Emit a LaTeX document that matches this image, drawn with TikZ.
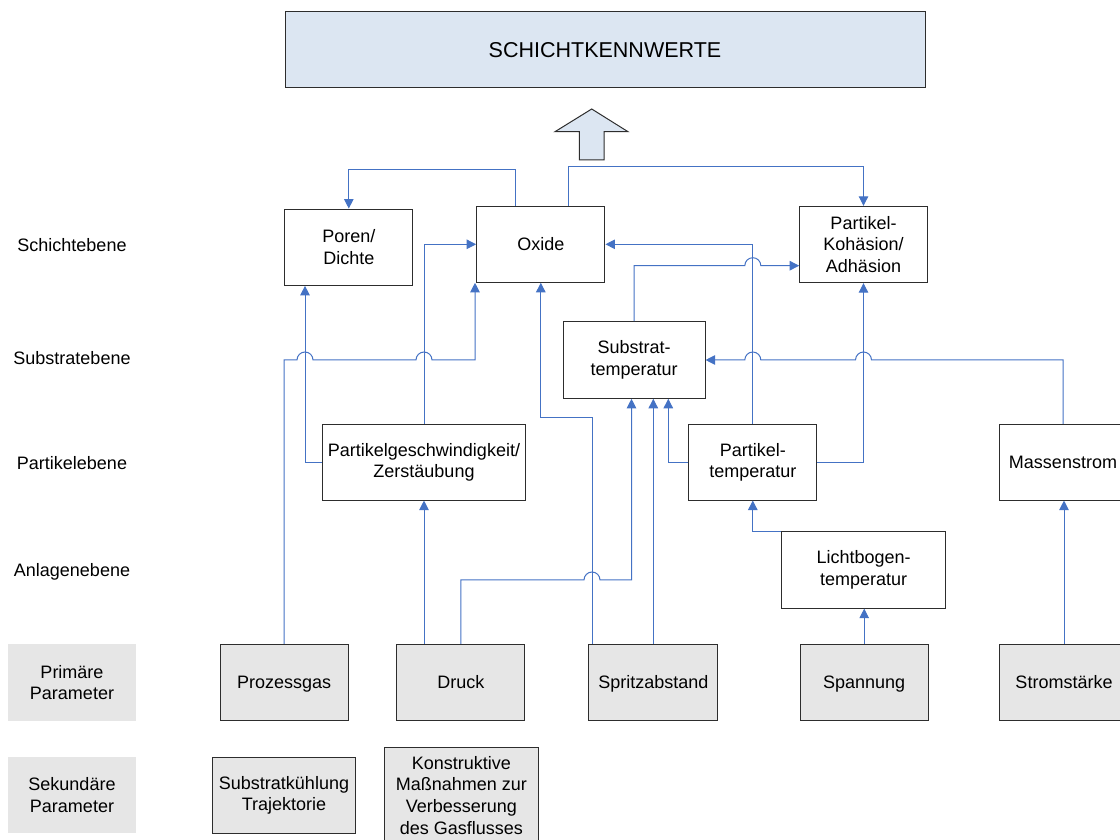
\documentclass[tikz,border=0pt]{standalone}
\usepackage{fontspec}
\setmainfont{Liberation Sans}
\usetikzlibrary{arrows.meta}
\definecolor{conncol}{RGB}{68,114,196}
\definecolor{titlefill}{RGB}{220,230,242}
\definecolor{gfill}{RGB}{230,230,230}
\definecolor{bord}{RGB}{45,45,45}
\begin{document}
\begin{tikzpicture}[x=1pt,y=1pt,
  txt/.style={font=\fontsize{18}{21.6}\selectfont, align=center},
  one/.style={text height=12.9pt, text depth=0pt},
  box/.style={txt, draw=bord, line width=1pt, fill=white, inner sep=0pt, minimum height=76.3pt},
  pbox/.style={box, fill=gfill, minimum width=128.3pt},
  lbox/.style={txt, fill=gfill, inner sep=0pt, minimum width=128pt, minimum height=76.4pt},
  lvl/.style={txt, one},
  link/.style={draw=conncol, line width=1pt, -{Triangle[length=9.5pt,width=9.5pt]}}
]
\useasboundingbox (0,0) rectangle (1120,839);

% title and big arrow
\node[box, minimum width=640pt, minimum height=76pt, fill=titlefill,
      font=\fontsize{21.5}{26}\selectfont, text height=15.4pt, text depth=0pt] (title) at (605,789) {SCHICHTKENNWERTE};
\draw[draw=bord, fill=titlefill, line width=1pt]
  (591.7,730) -- (628,707.3) -- (604,707.3) -- (604,679) -- (579.3,679)
  -- (579.3,707.3) -- (555,707.3) -- cycle;

% level labels
\node[lvl] (l1) at (72,594) {Schichtebene};
\node[lvl] (l2) at (72,481) {Substratebene};
\node[lvl] (l3) at (72,376) {Partikelebene};
\node[lvl] (l4) at (72,269) {Anlagenebene};
\node[lbox] (lprim) at (72,156.5) {Primäre\\Parameter};
\node[lbox] (lsek) at (72,44.2) {Sekundäre\\Parameter};

% Schichtebene
\node[box, minimum width=127.7pt] (poren) at (348.8,591.8) {Poren/\\Dichte};
\node[box, one, minimum width=128.3pt, minimum height=76pt] (oxide) at (540.8,594.7) {Oxide};
\node[box, minimum width=127.6pt, minimum height=76.4pt] (koh) at (863.5,594.5) {Partikel-\\Kohäsion/\\Adhäsion};
% Substratebene
\node[box, minimum width=141.7pt, minimum height=76.6pt] (sub) at (634.2,479) {Substrat-\\temperatur};
% Partikelebene
\node[box, minimum width=202.6pt, minimum height=75.7pt] (pg) at (424,376.8) {Partikelgeschwindigkeit/\\Zerstäubung};
\node[box, minimum width=127.7pt, minimum height=75.7pt] (pt) at (752.8,376.8) {Partikel-\\temperatur};
\node[box, one, minimum width=128pt, minimum height=75.7pt] (ms) at (1063,376.8) {Massenstrom};
% Anlagenebene
\node[box, minimum width=164.5pt] (lb) at (863.7,269) {Lichtbogen-\\temperatur};
% primary parameters
\node[pbox, one] (proz) at (284.2,156.5) {Prozessgas};
\node[pbox, one] (druck) at (460.8,156.5) {Druck};
\node[pbox, one, minimum width=129.3pt] (spritz) at (653.3,156.5) {Spritzabstand};
\node[pbox, one] (spann) at (864.2,156.5) {Spannung};
\node[pbox, one] (strom) at (1064,156.5) {Stromstärke};
% secondary parameters
\node[pbox, minimum width=143.4pt, minimum height=76pt] (sk) at (284,43.7) {Substratkühlung\\Trajektorie};
\node[pbox, minimum width=154pt, minimum height=95pt] (kon) at (461.3,43.8) {Konstruktive\\Maßnahmen zur\\Verbesserung\\des Gasflusses};

% connectors
\draw[link] ([xshift=-25.8pt]oxide.north) -- ++(0,36.3) -| (poren.north);
\draw[link] ([xshift=27.5pt]oxide.north) -- ++(0,39) -| (koh.north);
\draw[link] (pg.north) |- (oxide.west);
\draw[link] (pt.north) |- (oxide.east);
\draw[link] (sub.north) |- (744.8,573.3) arc[start angle=180,end angle=0,radius=8pt]
  -- ([yshift=-21.2pt]koh.west);
\draw[link] (pg.west) -| ([xshift=-43.8pt]poren.south);
\draw[link] (proz.north) |- (297,479) arc[start angle=180,end angle=0,radius=8pt]
  -- (416,479) arc[start angle=180,end angle=0,radius=8pt]
  -- (475,479) -- ([xshift=-65.8pt]oxide.south);
\draw[link] ([xshift=-61.3pt]spritz.north) -- ++(0,226) -| (oxide.south);
\draw[link] (pt.west) -| ([xshift=34.1pt]sub.south);
\draw[link] (spritz.north) -- (sub.south -| spritz.north);
\draw[link] (druck.north) |- (584,259) arc[start angle=180,end angle=0,radius=8pt]
  -- (631.5,259) -- ([xshift=-2.7pt]sub.south);
\draw[link] (druck.north -| pg.south) -- (pg.south);
\draw[link] (lb.north west) -| (pt.south);
\draw[link] (spann.north) -- (spann.north |- lb.south);
\draw[link] (strom.north) -- (strom.north |- ms.south);
\draw[link] (ms.north) |- (871.5,479) arc[start angle=0,end angle=180,radius=8pt]
  -- (760.8,479) arc[start angle=0,end angle=180,radius=8pt] -- (sub.east);
\draw[link] (pt.east) -| (koh.south);
\end{tikzpicture}
\end{document}
